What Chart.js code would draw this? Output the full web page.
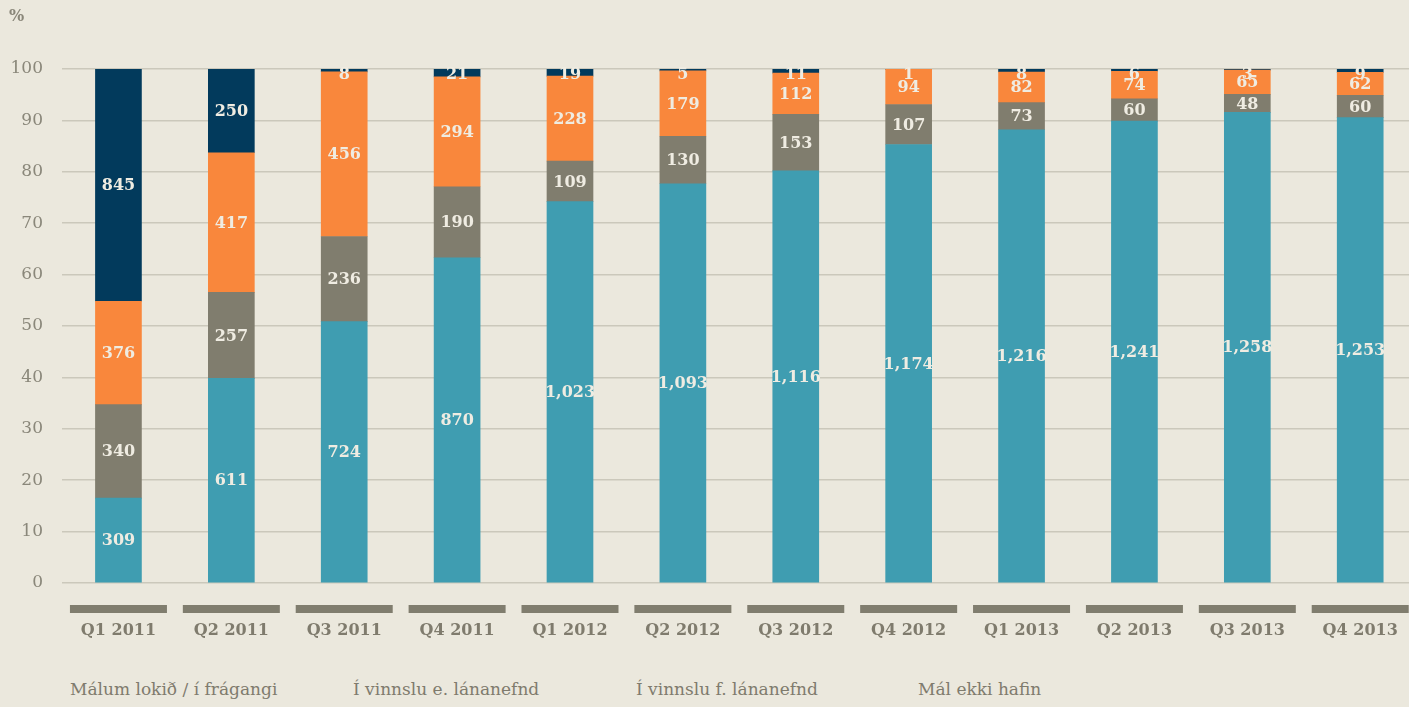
<!DOCTYPE html>
<html lang="is">
<head>
<meta charset="UTF-8">
<title>Staða mála</title>
<style>
    body {
        margin: 0;
        background: #ebe8dd;
        overflow: hidden;
        font-family: 'DejaVu Serif', serif;
    }
    .wrap {
        position: relative;
        width: 1436px;
        height: 707px;
    }
    .unit {
        position: absolute;
        left: 9px;
        top: 6px;
        font-size: 16px;
        font-weight: bold;
        color: #8a877a;
    }
    .legend span {
        position: absolute;
        top: 679px;
        font-size: 17px;
        color: #7f7b6d;
        white-space: nowrap;
    }
</style>
<script src="https://cdn.jsdelivr.net/npm/chart.js"></script>
</head>
<body>
<div class="wrap">
    <div class="unit">%</div>
    <canvas id="chart" width="1436" height="662"></canvas>
    <div class="legend" id="legend"></div>
</div>
<script>
    // quarters
    const quarters = ['Q1 2011', 'Q2 2011', 'Q3 2011', 'Q4 2011', 'Q1 2012', 'Q2 2012',
                      'Q3 2012', 'Q4 2012', 'Q1 2013', 'Q2 2013', 'Q3 2013', 'Q4 2013'];

    // case counts per quarter, bottom to top
    const lokid   = [309, 611, 724, 870, 1023, 1093, 1116, 1174, 1216, 1241, 1258, 1253];
    const eNefnd  = [340, 257, 236, 190, 109, 130, 153, 107, 73, 60, 48, 60];
    const fNefnd  = [376, 417, 456, 294, 228, 179, 112, 94, 82, 74, 65, 62];
    const ekki    = [845, 250, 8, 21, 19, 5, 11, 1, 8, 6, 3, 9];

    const seriesNames = ['Málum lokið / í frágangi', 'Í vinnslu e. lánanefnd', 'Í vinnslu f. lánanefnd', 'Mál ekki hafin'];
    const seriesColors = ['#3f9db1', '#807d6e', '#f9873c', '#023a5c'];
    const yTicks = [0, 10, 20, 30, 40, 50, 60, 70, 80, 90, 100];

    const counts = [lokid, eNefnd, fNefnd, ekki];
    const totals = quarters.map((q, i) => counts.reduce((s, arr) => s + arr[i], 0));

    const datasets = counts.map((arr, k) => ({
        label: seriesNames[k],
        data: arr.map((v, i) => v / totals[i] * 100),
        counts: arr,
        backgroundColor: seriesColors[k],
        borderWidth: 0,
        barThickness: 46
    }));

    // count labels centred in each segment, kept off the very top edge
    const segmentLabels = {
        id: 'segmentLabels',
        afterDatasetsDraw(chart) {
            const ctx = chart.ctx;
            const top = chart.chartArea.top;
            ctx.save();
            ctx.font = 'bold 16px "DejaVu Serif"';
            ctx.fillStyle = '#efece2';
            ctx.textAlign = 'center';
            ctx.textBaseline = 'middle';
            chart.data.datasets.forEach((ds, k) => {
                const meta = chart.getDatasetMeta(k);
                meta.data.forEach((bar, i) => {
                    const y = Math.max((bar.y + bar.base) / 2 + 1, top + 6);
                    ctx.fillText(ds.counts[i].toLocaleString('en-US'), bar.x, y);
                });
            });
            ctx.restore();
        }
    };

    const tickBars = {
        id: 'tickBars',
        afterDraw(chart) {
            const ctx = chart.ctx;
            const x = chart.scales.x;
            ctx.save();
            ctx.fillStyle = '#807d6e';
            quarters.forEach((q, i) => {
                const px = x.getPixelForTick(i);
                ctx.fillRect(px - 48.5, chart.chartArea.bottom + 22, 97, 8);
            });
            ctx.restore();
        }
    };

    new Chart(document.getElementById('chart'), {
        type: 'bar',
        data: { labels: quarters, datasets: datasets },
        options: {
            responsive: false,
            animation: false,
            layout: { padding: { top: 69, right: 5, left: 0, bottom: 0 } },
            plugins: {
                legend: { display: false },
                tooltip: { enabled: false }
            },
            scales: {
                x: {
                    stacked: true,
                    grid: { display: false, drawTicks: false },
                    border: { display: false },
                    ticks: {
                        padding: 38,
                        color: '#7f7b6d',
                        font: { family: 'DejaVu Serif', size: 16, weight: 'bold' }
                    },
                    afterFit(scale) { scale.height = 79; }
                },
                y: {
                    stacked: true,
                    min: 0,
                    max: 100,
                    afterBuildTicks(scale) { scale.ticks = yTicks.map(v => ({ value: v })); },
                    grid: { color: '#cbc8bb', lineWidth: 1.5, drawTicks: false },
                    border: { display: false },
                    ticks: {
                        padding: 19,
                        color: '#8a877a',
                        font: { family: 'DejaVu Serif', size: 17 }
                    },
                    afterFit(scale) { scale.width = 62; }
                }
            }
        },
        plugins: [segmentLabels, tickBars]
    });

    const legendX = [70, 353, 636, 918];
    const legend = document.getElementById('legend');
    seriesNames.forEach((name, k) => {
        const s = document.createElement('span');
        s.textContent = name;
        s.style.left = legendX[k] + 'px';
        legend.appendChild(s);
    });
</script>
</body>
</html>
